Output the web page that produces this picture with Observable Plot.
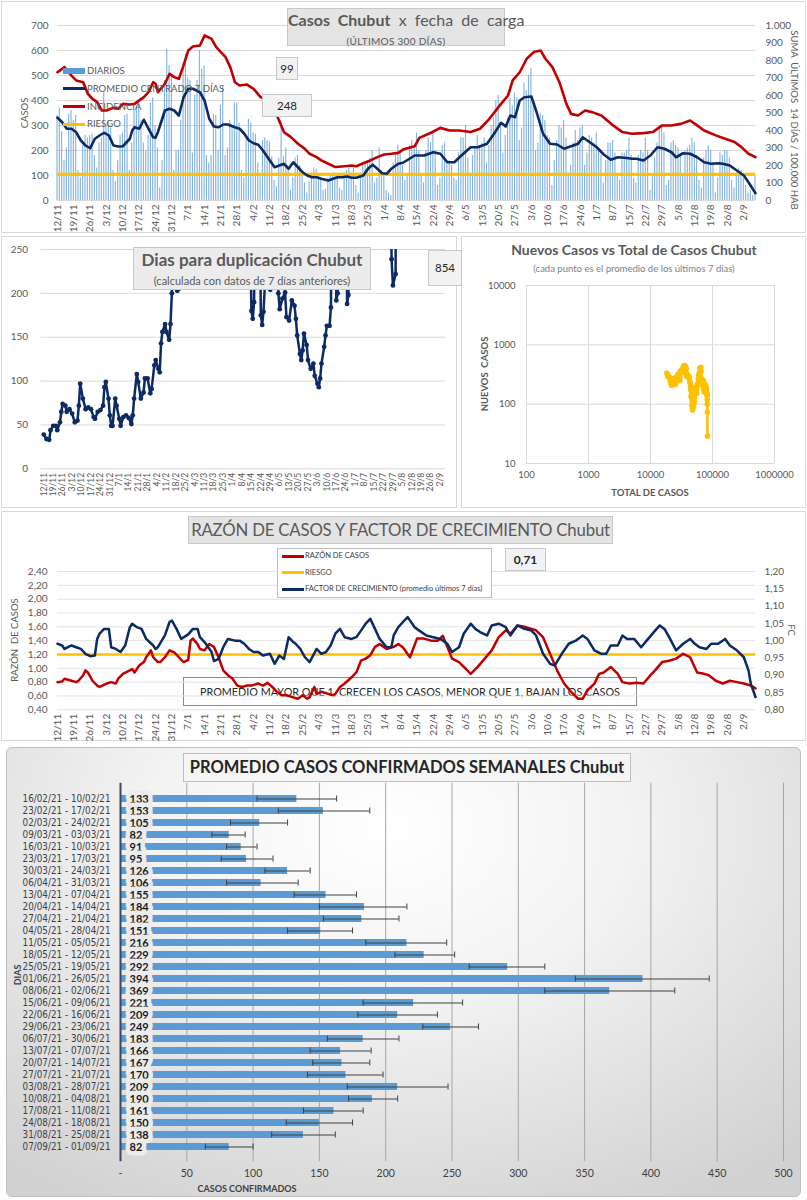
<!DOCTYPE html>
<html><head><meta charset="utf-8">
<script src="https://cdn.jsdelivr.net/npm/d3@7"></script>
<script src="https://cdn.jsdelivr.net/npm/@observablehq/plot@0.6"></script>
<style>
body{margin:0;background:#fff;font-family:Lato,"Open Sans",sans-serif;}
#root{position:relative;width:807px;height:1200px;overflow:hidden;background:#fff;}
#root svg{position:absolute;overflow:visible;}
</style></head>
<body><div id="root"></div>
<script>
// ---------------- DATA ----------------
const fechaEtiquetas = ["12/11","19/11","26/11","3/12","10/12","17/12","24/12","31/12","7/1","14/1","21/1","28/1","4/2","11/2","18/2","25/2","4/3","11/3","18/3","25/3","1/4","8/4","15/4","22/4","29/4","6/5","13/5","20/5","27/5","3/6","10/6","17/6","24/6","1/7","8/7","15/7","22/7","29/7","5/8","12/8","19/8","26/8","2/9"];

const diarios = [
340,370,275,160,210,345,360, 320,340,120,90,220,260,250, 260,265,180,130,230,250,430,
300,320,290,120,75,160,260, 270,340,345,120,230,360,380, 395,320,230,200,260,390,410,
300,210,50,160,480,605,540, 500,120,200,200,320,550,585, 490,480,190,420,480,600,525,
540,180,150,180,345,340,200, 380,460,180,210,320,300,390, 390,310,120,90,250,325,310,
270,265,150,95,240,250,240, 235,175,80,55,170,320,175, 210,120,40,90,170,180,140,
110,70,30,75,110,130,125, 100,90,40,45,90,100,110, 95,100,50,40,110,120,130,
110,130,60,30,110,140,150, 160,170,200,70,90,210,120, 110,40,30,20,150,190,220,
190,140,80,100,220,240,210, 270,200,100,70,200,250,230, 275,200,60,90,220,230,160,
160,140,90,80,190,250,250, 300,170,110,180,210,260,220, 230,250,150,220,300,330,400,
420,310,190,260,330,410,380, 430,410,240,290,470,440,500, 527,390,200,230,350,340,320,
260,250,60,160,240,300,290, 320,250,110,140,230,280,240, 290,300,140,190,260,250,230,
270,200,180,70,160,230,230, 240,190,100,80,190,190,200, 250,180,90,70,180,200,190,
250,200,40,100,170,230,300, 300,270,60,80,230,240,220, 210,180,100,200,210,220,250,
230,180,80,50,170,200,220, 200,150,30,90,190,180,200, 200,170,80,50,110,130,120,
90,60,30,40,20,99];

// [día, valor]  (día 0 = 12/11/2020)
const promedio7 = [[0,331],[2,313],[4,287],[6,287],[8,273],[10,240],[12,220],[14,209],[16,247],[18,260],[20,271],[22,260],[24,220],[26,216],[28,217],[31,247],[32,280],[33,293],[35,287],[37,323],[39,287],[41,253],[42,251],[43,273],[46,360],[48,367],[50,360],[52,340],[54,413],[56,447],[58,447],[61,433],[63,400],[65,327],[67,296],[69,293],[71,304],[73,304],[76,293],[78,287],[80,267],[82,240],[84,229],[86,223],[88,200],[90,173],[93,133],[97,147],[99,127],[101,153],[103,133],[105,113],[107,100],[109,93],[111,93],[113,87],[116,80],[118,87],[120,93],[122,93],[124,96],[126,91],[128,91],[131,100],[133,127],[135,143],[137,127],[139,109],[141,107],[143,127],[146,147],[148,151],[153,180],[157,180],[161,193],[164,187],[167,153],[170,153],[173,180],[177,213],[180,213],[184,227],[187,267],[190,311],[192,296],[194,340],[196,333],[198,400],[200,413],[203,416],[205,360],[208,267],[211,227],[214,224],[217,207],[220,217],[223,227],[225,253],[228,233],[231,213],[234,184],[237,163],[240,173],[243,171],[246,167],[248,167],[251,160],[254,180],[257,213],[260,207],[263,193],[265,173],[268,189],[271,187],[274,173],[277,153],[280,147],[283,149],[285,147],[288,140],[291,120],[294,100],[296,73],[299,29]];

const incidencia = [[0,733],[2,752],[3,762],[6,714],[8,686],[11,676],[13,610],[15,581],[17,562],[19,514],[21,514],[24,530],[26,524],[28,552],[31,549],[33,552],[35,572],[37,591],[39,619],[41,676],[42,667],[43,619],[46,667],[48,724],[50,705],[52,695],[54,772],[56,857],[58,880],[61,886],[63,943],[66,924],[68,876],[70,848],[72,819],[74,762],[76,676],[78,657],[81,663],[84,638],[87,591],[90,572],[92,524],[94,486],[97,391],[100,362],[103,324],[106,295],[108,267],[111,248],[113,229],[116,210],[119,191],[123,196],[126,200],[128,196],[131,213],[134,229],[137,248],[140,263],[143,267],[146,272],[148,291],[153,310],[155,358],[160,387],[164,415],[168,400],[172,400],[177,391],[181,410],[185,467],[190,552],[193,600],[195,686],[198,733],[201,810],[204,848],[207,857],[209,810],[212,762],[215,676],[218,552],[220,495],[223,486],[226,514],[229,505],[233,486],[238,429],[242,391],[246,381],[251,385],[255,391],[259,429],[263,429],[267,438],[271,457],[274,429],[277,400],[282,372],[286,353],[290,334],[293,305],[296,267],[299,248]];
const riesgoIncidencia = 150;
const ultimoDiario = 99;
const ultimaIncidencia = 248;

const duplicacion = [[0,39],[2,34],[4,33],[5,44],[7,49],[9,49],[10,44],[12,53],[13,65],[14,74],[16,72],[17,65],[19,68],[21,63],[23,53],[25,55],[26,72],[27,97],[29,80],[31,68],[33,70],[35,68],[37,59],[38,57],[40,65],[42,67],[44,72],[45,93],[46,99],[48,80],[49,61],[50,49],[51,49],[53,80],[54,72],[56,57],[57,49],[59,59],[61,61],[63,58],[65,51],[66,61],[67,80],[69,108],[70,99],[72,80],[74,87],[75,103],[77,103],[79,86],[80,91],[82,118],[83,124],[85,114],[86,110],[87,143],[88,156],[90,165],[91,156],[93,147],[94,165],[95,200],[97,400],[99,203],[100,205],[101,210],[102,400],[152,400],[154,180],[155,171],[156,190],[157,400],[160,400],[161,175],[162,164],[163,179],[164,210],[165,400],[167,400],[168,204],[169,400],[173,400],[174,200],[175,182],[177,194],[179,201],[180,173],[182,169],[184,192],[186,186],[187,171],[188,152],[190,131],[191,124],[192,135],[193,154],[195,141],[196,124],[198,114],[200,120],[201,106],[203,97],[204,93],[205,103],[206,120],[208,139],[209,152],[210,163],[212,163],[213,184],[214,400],[216,400],[217,192],[218,200],[219,400],[224,400],[225,188],[226,198],[227,400],[257,400],[258,239],[259,209],[261,222],[262,854]];
const ultimaDuplicacion = 854;
const totalInicial = 18000;

const razonCasos = [[0,0.80],[2,0.81],[3,0.85],[6,0.82],[8,0.80],[9,0.82],[11,0.90],[12,0.97],[13,0.94],[15,0.82],[17,0.75],[18,0.73],[21,0.78],[23,0.80],[25,0.78],[26,0.85],[28,0.92],[31,0.97],[32,0.99],[33,0.94],[35,1.04],[37,1.09],[38,1.16],[40,1.26],[41,1.16],[43,1.09],[44,1.09],[46,1.16],[48,1.26],[50,1.23],[52,1.16],[54,1.09],[56,1.12],[57,1.40],[58,1.43],[60,1.35],[61,1.28],[63,1.26],[65,1.35],[67,1.31],[69,1.16],[71,0.97],[73,0.90],[75,0.85],[77,0.75],[79,0.73],[81,0.75],[83,0.75],[86,0.78],[88,0.75],[90,0.79],[92,0.73],[94,0.66],[96,0.61],[98,0.61],[101,0.58],[103,0.56],[105,0.61],[107,0.56],[108,0.58],[110,0.73],[111,0.63],[113,0.66],[116,0.63],[118,0.61],[119,0.63],[121,0.73],[123,0.78],[126,0.87],[128,0.94],[130,1.11],[132,1.14],[134,1.19],[136,1.31],[138,1.35],[141,1.28],[144,1.31],[146,1.35],[148,1.30],[151,1.16],[154,1.43],[157,1.43],[160,1.40],[163,1.40],[165,1.47],[167,1.31],[169,1.14],[172,1.09],[175,0.99],[177,0.92],[180,1.02],[183,1.14],[186,1.26],[189,1.45],[192,1.55],[194,1.50],[197,1.62],[200,1.60],[203,1.57],[205,1.55],[208,1.45],[211,1.21],[214,0.97],[217,0.78],[220,0.66],[223,0.56],[225,0.56],[227,0.68],[230,0.78],[232,0.92],[234,0.94],[237,1.02],[240,0.92],[242,0.80],[245,0.78],[248,0.79],[251,0.78],[254,0.90],[256,0.97],[259,1.09],[262,1.11],[265,1.14],[268,1.21],[271,1.16],[274,0.94],[277,0.92],[279,0.90],[282,0.82],[285,0.78],[288,0.82],[291,0.80],[294,0.78],[297,0.75],[299,0.71]];
const factorCrecimiento = [[0,0.991],[2,0.986],[3,0.976],[6,0.986],[8,0.981],[10,0.976],[12,0.962],[14,0.955],[16,0.957],[17,1.005],[18,1.020],[20,1.034],[22,1.034],[23,0.981],[25,0.976],[27,0.967],[29,0.986],[31,1.039],[32,1.049],[34,1.039],[36,1.034],[38,1.005],[41,0.986],[42,0.976],[43,0.981],[46,1.015],[48,1.054],[49,1.058],[51,1.034],[53,1.005],[56,1.018],[58,1.034],[60,1.034],[61,1.010],[63,0.996],[66,0.967],[67,0.941],[69,0.947],[71,0.981],[73,1.005],[76,1.000],[78,1.000],[80,0.991],[82,0.976],[84,0.967],[86,0.967],[88,0.957],[91,0.962],[93,0.933],[95,0.957],[97,0.947],[99,1.010],[101,0.996],[102,0.991],[104,0.976],[106,0.952],[108,0.938],[111,0.976],[113,0.962],[115,0.967],[117,0.986],[119,1.020],[121,1.034],[123,1.010],[126,1.005],[128,1.010],[130,1.029],[132,1.049],[134,1.063],[136,1.034],[138,1.005],[141,0.981],[143,0.981],[144,1.015],[146,1.039],[148,1.054],[150,1.068],[153,1.039],[155,1.029],[158,1.015],[161,1.010],[164,1.005],[167,0.991],[169,0.967],[172,0.981],[174,1.020],[177,1.049],[179,1.034],[181,1.025],[184,1.015],[186,1.044],[189,1.049],[192,1.039],[194,1.015],[197,1.044],[200,1.034],[203,1.029],[205,1.015],[208,0.962],[211,0.933],[213,0.928],[216,0.962],[219,0.991],[222,1.000],[225,1.015],[227,1.005],[230,0.972],[233,0.962],[235,0.962],[237,0.986],[240,0.986],[242,1.015],[244,1.005],[247,1.005],[250,0.981],[253,1.005],[256,1.029],[258,1.044],[260,1.034],[262,1.010],[265,0.972],[268,0.991],[271,1.005],[273,0.991],[275,0.981],[278,0.976],[280,0.991],[283,0.991],[286,1.005],[288,0.986],[291,0.972],[294,0.952],[296,0.914],[297,0.875],[299,0.837]];
const riesgoRazon = 1.2;
const ultimaRazon = "0,71";

const semanas = ["16/02/21 - 10/02/21","23/02/21 - 17/02/21","02/03/21 - 24/02/21","09/03/21 - 03/03/21","16/03/21 - 10/03/21","23/03/21 - 17/03/21","30/03/21 - 24/03/21","06/04/21 - 31/03/21","13/04/21 - 07/04/21","20/04/21 - 14/04/21","27/04/21 - 21/04/21","04/05/21 - 28/04/21","11/05/21 - 05/05/21","18/05/21 - 12/05/21","25/05/21 - 19/05/21","01/06/21 - 26/05/21","08/06/21 - 02/06/21","15/06/21 - 09/06/21","22/06/21 - 16/06/21","29/06/21 - 23/06/21","06/07/21 - 30/06/21","13/07/21 - 07/07/21","20/07/21 - 14/07/21","27/07/21 - 21/07/21","03/08/21 - 28/07/21","10/08/21 - 04/08/21","17/08/21 - 11/08/21","24/08/21 - 18/08/21","31/08/21 - 25/08/21","07/09/21 - 01/09/21"];
const promedioSemanal = [133,153,105,82,91,95,126,106,155,184,182,151,216,229,292,394,369,221,209,249,183,166,167,170,209,190,161,150,138,82];
const errorInf = [103,119,83,69,80,76,109,80,131,150,153,126,185,207,263,343,320,183,179,228,156,143,145,141,171,172,138,125,114,64];
const errorSup = [163,188,126,94,103,115,143,134,178,216,210,175,246,252,320,444,418,258,239,270,210,189,188,198,247,209,183,175,162,100];

const ticksCasos = [0,100,200,300,400,500,600,700];
const ticksIncidencia = [0,100,200,300,400,500,600,700,800,900,1000];
const ticksDuplicacion = [0,50,100,150,200,250];
const ticksLog = [100,1000,10000,100000,1000000];
const ticksLogY = [10,100,1000,10000];
const ticksRazon = [0.4,0.6,0.8,1.0,1.2,1.4,1.6,1.8,2.0,2.2,2.4];
const ticksFC = [0.80,0.85,0.90,0.95,1.00,1.05,1.10,1.15,1.20];
const ticksSemanal = [0,50,100,150,200,250,300,350,400,450,500];

// ---------------- COLORS ----------------
const AZUL = "#5b9bd5", NAVY = "#0c2a64", ROJO = "#c00000", AMARILLO = "#ffc000", GRIS = "#595959";
const NARROW = "'Liberation Sans Narrow','DejaVu Sans Condensed',Lato,sans-serif";
const root = document.getElementById("root");
function div(html, st){const d=document.createElement("div");d.innerHTML=html;Object.assign(d.style,{position:"absolute",boxSizing:"border-box"},st);root.appendChild(d);return d;}
function put(svg,left,top){svg.style.left=left+"px";svg.style.top=top+"px";root.appendChild(svg);}
const comma = (v,n)=>v.toFixed(n).replace(".",",");
const tickDays = fechaEtiquetas.map((_,i)=>i*7);
const fmtFecha = d => fechaEtiquetas[Math.round(d/7)];

// panel frames
div("",{left:"1px",top:"1px",width:"805px",height:"232px",border:"1px solid #d9d9d9"});
div("",{left:"1px",top:"236px",width:"456px",height:"272px",border:"1px solid #d9d9d9"});
div("",{left:"461px",top:"236px",width:"345px",height:"272px",border:"1px solid #d9d9d9"});
div("",{left:"1px",top:"511px",width:"805px",height:"230px",border:"1px solid #d9d9d9"});
div("",{left:"6px",top:"747px",width:"795px",height:"450px",border:"1px solid #bfbfbf",borderRadius:"6px",background:"radial-gradient(ellipse 75% 95% at 48% 18%, #ffffff 0%, #f3f3f3 40%, #d2d2d2 100%)"});

// ---------------- PANEL 1 ----------------
const kInc = 700/1000; // incidencia -> escala izquierda
const p1 = Plot.plot({
  width:807,height:235,marginLeft:57,marginRight:52,marginTop:25,marginBottom:35,
  x:{domain:[0,299]}, y:{domain:[0,700]},
  style:{fontFamily:"Lato",fontSize:"10px",color:GRIS,background:"transparent"},
  marks:[
    Plot.gridY(ticksCasos,{stroke:"#d9d9d9",strokeOpacity:1}),
    Plot.axisY(ticksCasos,{anchor:"left",tickSize:0,tickPadding:9,label:null}),
    Plot.axisY(ticksIncidencia.map(v=>v*kInc),{anchor:"right",tickSize:0,tickPadding:10,label:null,
      tickFormat:v=>{const r=Math.round(v/kInc);return r>=1000?d3.format(",")(r).replace(/,/g,"."):String(r);}}),
    Plot.axisX(tickDays,{tickSize:0,tickPadding:4,tickRotate:-90,tickFormat:fmtFecha,label:null,fontSize:10}),
    Plot.rectY(diarios.map((v,i)=>({d:i,v})),{x1:d=>d.d-0.5,x2:d=>d.d+0.5,y1:0,y2:"v",insetLeft:0.6,insetRight:0.6,fill:AZUL,fillOpacity:0.75}),
    Plot.ruleY([riesgoIncidencia*kInc],{stroke:AMARILLO,strokeWidth:3}),
    Plot.line(incidencia,{x:d=>d[0],y:d=>d[1]*kInc,stroke:ROJO,strokeWidth:2.6}),
    Plot.line(promedio7,{x:d=>d[0],y:d=>d[1],stroke:NAVY,strokeWidth:2.6})
  ]});
put(p1,0,0);
div('<span style="font-weight:700">Casos&nbsp; Chubut</span>&nbsp; x&nbsp; fecha&nbsp; de&nbsp; carga<div style="font-size:10px;margin-top:3px;letter-spacing:0.3px">(ÚLTIMOS 300 DÍAS)</div>',
  {left:"287px",top:"8px",width:"218px",height:"38px",background:"#e4e4e4",border:"1px solid #c8c8c8",textAlign:"center",color:GRIS,fontSize:"16px",lineHeight:"19px",paddingTop:"1px",whiteSpace:"nowrap"});
div(String(ultimoDiario),{left:"276px",top:"57px",width:"22px",height:"23px",background:"#f2f2f2",border:"1px solid #c8c8c8",textAlign:"center",fontSize:"11.5px",lineHeight:"21px",color:"#262626"});
div(String(ultimaIncidencia),{left:"262px",top:"94px",width:"50px",height:"23px",background:"#f2f2f2",border:"1px solid #c8c8c8",textAlign:"center",fontSize:"11.5px",lineHeight:"21px",color:"#262626"});
// legend
[["DIARIOS",AZUL,"bar"],["PROMEDIO CENTRADO 7 DÍAS",NAVY,"line"],["INCIDENCIA",ROJO,"line"],["RIESGO",AMARILLO,"line"]].forEach((e,i)=>{
  const y=71+i*17.8;
  div("",{left:"63px",top:(e[2]==="bar"?y-3:y-1.5)+"px",width:"22px",height:(e[2]==="bar"?6:3)+"px",background:e[1]});
  div(e[0],{left:"87px",top:(y-7)+"px",fontSize:"9.5px",color:GRIS,whiteSpace:"nowrap",lineHeight:"14px"});
});
div("CASOS",{left:"24px",top:"113px",transform:"translate(-50%,-50%) rotate(-90deg)",fontSize:"9.5px",color:GRIS});
div("SUMA&nbsp; ÚLTIMOS&nbsp; 14 DÍAS / 100.000 HAB",{left:"794px",top:"120px",transform:"translate(-50%,-50%) rotate(90deg)",fontSize:"9.5px",color:GRIS,whiteSpace:"nowrap"});

// ---------------- PANEL 2 ----------------
const p2 = Plot.plot({
  width:460,height:273,marginLeft:40.6,marginRight:15,marginTop:12,marginBottom:41.7,
  x:{domain:[-2,298]}, y:{domain:[0,250]},
  style:{fontFamily:"Lato",fontSize:"10px",color:GRIS,background:"transparent"},
  marks:[
    Plot.gridY(ticksDuplicacion,{stroke:"#d9d9d9",strokeOpacity:1}),
    Plot.axisY(ticksDuplicacion,{anchor:"left",tickSize:0,tickPadding:13,label:null}),
    Plot.axisX(tickDays,{tickSize:0,tickPadding:4,tickRotate:-90,tickFormat:fmtFecha,label:null,fontSize:8.5}),
    Plot.line(duplicacion,{x:d=>d[0],y:d=>d[1],stroke:NAVY,strokeWidth:2.5,clip:true}),
    Plot.dot(duplicacion,{x:d=>d[0],y:d=>d[1],r:2.4,fill:NAVY,clip:true})
  ]});
put(p2,0,237);
div('<span style="font-weight:700;font-size:17px">Dias para duplicación Chubut</span><div style="font-size:11px;margin-top:2px">(calculada con datos de 7 días anteriores)</div>',
  {left:"133px",top:"247px",width:"238px",height:"43px",background:"#ececec",border:"1px solid #c8c8c8",textAlign:"center",color:GRIS,lineHeight:"19px",paddingTop:"2px",whiteSpace:"nowrap"});
div(String(ultimaDuplicacion),{left:"428px",top:"250px",width:"34px",height:"36px",background:"#f2f2f2",border:"1px solid #c8c8c8",textAlign:"center",fontSize:"11.5px",lineHeight:"34px",color:"#262626"});

// ---------------- PANEL 3 ----------------
const acumulado = d3.cumsum(diarios);
const dispersion = promedio7.map(([d,v])=>({total:totalInicial+acumulado[d],nuevos:v}));
const p3 = Plot.plot({
  width:347,height:273,marginLeft:66,marginRight:33,marginTop:48,marginBottom:47,
  x:{type:"log",domain:[100,1e6]}, y:{type:"log",domain:[10,10000]},
  style:{fontFamily:"Lato",fontSize:"9.5px",color:GRIS,background:"transparent"},
  marks:[
    Plot.gridX(ticksLog,{stroke:"#d9d9d9",strokeOpacity:1}),
    Plot.gridY(ticksLogY,{stroke:"#d9d9d9",strokeOpacity:1}),
    Plot.axisX(ticksLog,{tickSize:0,tickPadding:8,tickFormat:d=>String(d),label:null}),
    Plot.axisY(ticksLogY,{tickSize:0,tickPadding:11,tickFormat:d=>String(d),label:null}),
    Plot.line(dispersion,{x:"total",y:"nuevos",stroke:AMARILLO,strokeWidth:2.5}),
    Plot.dot(dispersion,{x:"total",y:"nuevos",r:2.8,fill:AMARILLO})
  ]});
put(p3,460,237);
div('<div style="font-weight:700;font-size:14px;color:'+GRIS+'">Nuevos Casos vs Total de Casos Chubut</div><div style="font-size:9.5px;margin-top:2px;color:#7f7f7f">(cada punto es el promedio de los últimos 7 días)</div>',
  {left:"634px",top:"241px",transform:"translateX(-50%)",textAlign:"center",whiteSpace:"nowrap",lineHeight:"17px"});
div("NUEVOS&nbsp; CASOS",{left:"484px",top:"374px",transform:"translate(-50%,-50%) rotate(-90deg)",fontSize:"9.5px",fontWeight:"700",color:GRIS,whiteSpace:"nowrap"});
div("TOTAL DE CASOS",{left:"650px",top:"492px",transform:"translate(-50%,-50%)",fontSize:"9.5px",fontWeight:"700",color:GRIS,whiteSpace:"nowrap"});

// ---------------- PANEL 4 ----------------
div("PROMEDIO MAYOR QUE 1, CRECEN LOS CASOS, MENOR QUE 1, BAJAN LOS CASOS",{left:"183px",top:"677px",width:"454px",height:"29px",border:"1px solid #8c8c8c",textAlign:"center",fontSize:"10.8px",lineHeight:"27px",color:"#262626",whiteSpace:"nowrap"});
const fcToY = f => 0.4 + (f-0.8)*5;
const p4 = Plot.plot({
  width:807,height:230,marginLeft:57,marginRight:52,marginTop:61,marginBottom:30.7,
  x:{domain:[0,299]}, y:{domain:[0.4,2.4]},
  style:{fontFamily:"Lato",fontSize:"10px",color:GRIS,background:"transparent"},
  marks:[
    Plot.gridY(ticksRazon,{stroke:"#e3e3e3",strokeOpacity:1}),
    Plot.axisY(ticksRazon,{anchor:"left",tickSize:0,tickPadding:10,tickFormat:v=>comma(v,2),label:null}),
    Plot.axisY(ticksFC.map(fcToY),{anchor:"right",tickSize:0,tickPadding:9,tickFormat:v=>comma(0.8+(v-0.4)/5,2),label:null}),
    Plot.axisX(tickDays,{tickSize:0,tickPadding:4,tickRotate:-90,tickFormat:fmtFecha,label:null,fontSize:10}),
    Plot.ruleY([riesgoRazon],{stroke:AMARILLO,strokeWidth:2.6}),
    Plot.line(razonCasos,{x:d=>d[0],y:d=>d[1],stroke:ROJO,strokeWidth:2.5}),
    Plot.line(factorCrecimiento,{x:d=>d[0],y:d=>fcToY(d[1]),stroke:NAVY,strokeWidth:2.5})
  ]});
put(p4,0,510);
div("RAZÓN DE CASOS Y FACTOR DE CRECIMIENTO Chubut",{left:"188px",top:"516px",width:"425px",height:"28px",background:"#e4e4e4",border:"1px solid #c8c8c8",textAlign:"center",fontSize:"16.8px",letterSpacing:"-0.2px",lineHeight:"26px",color:GRIS,whiteSpace:"nowrap"});
div("",{left:"277px",top:"548px",width:"215px",height:"50px",background:"#fff",border:"1px solid #bfbfbf"});
[["RAZÓN DE CASOS",ROJO],["RIESGO",AMARILLO],["FACTOR DE CRECIMIENTO (promedio últimos 7 días)",NAVY]].forEach((e,i)=>{
  const y=556+i*16.5;
  div("",{left:"282px",top:(y-1.5)+"px",width:"22px",height:"3px",background:e[1]});
  div(e[0],{left:"305px",top:(y-6)+"px",fontSize:"7.5px",color:"#404040",whiteSpace:"nowrap",lineHeight:"12px"});
});
div(ultimaRazon,{left:"505px",top:"548px",width:"41px",height:"23px",background:"#f2f2f2",border:"1px solid #c8c8c8",textAlign:"center",fontSize:"12px",fontWeight:"700",lineHeight:"21px",color:"#262626"});
div("RAZÓN&nbsp; DE CASOS",{left:"14px",top:"640px",transform:"translate(-50%,-50%) rotate(-90deg)",fontSize:"9.5px",color:GRIS,whiteSpace:"nowrap"});
div("FC",{left:"791px",top:"630px",transform:"translate(-50%,-50%) rotate(90deg)",fontSize:"9.5px",color:GRIS});

// ---------------- PANEL 5 ----------------
const filas = semanas.map((s,i)=>({semana:s,v:promedioSemanal[i],lo:errorInf[i],hi:errorSup[i]}));
const p5 = Plot.plot({
  width:807,height:455,marginLeft:120,marginRight:24,marginTop:37.7,marginBottom:38.8,
  x:{domain:[0,500]}, y:{domain:semanas,padding:0.45},
  style:{fontFamily:"Lato",fontSize:"10.5px",color:"#404040",background:"transparent"},
  marks:[
    Plot.gridX(ticksSemanal.slice(1),{stroke:"#a6a6a6",strokeOpacity:1}),
    Plot.axisX(ticksSemanal,{tickSize:0,tickPadding:8,tickFormat:v=>v===0?"-":String(v),label:null,fontSize:10.5}),
    Plot.axisY({tickSize:0,tickPadding:10,label:null,fontSize:9.8,fontFamily:NARROW}),
    Plot.barX(filas,{y:"semana",x:"v",fill:AZUL}),
    Plot.ruleY(filas,{y:"semana",x1:"lo",x2:"hi",stroke:"#404040",strokeWidth:1}),
    Plot.tickX(filas,{y:"semana",x:"lo",stroke:"#404040",insetTop:0.5,insetBottom:0.5}),
    Plot.tickX(filas,{y:"semana",x:"hi",stroke:"#404040",insetTop:0.5,insetBottom:0.5}),
    Plot.ruleX([0],{stroke:"#3b4a5e",strokeWidth:2}),
    Plot.text(filas,{y:"semana",x:0,text:d=>String(d.v),dx:9,textAnchor:"start",fontWeight:"bold",fontSize:11,fill:"#1a1a1a",stroke:"#ececec",strokeWidth:9})
  ]});
put(p5,0,745);
div("PROMEDIO CASOS CONFIRMADOS SEMANALES Chubut",{left:"183px",top:"753px",width:"448px",height:"29px",background:"rgba(245,245,245,0.9)",border:"1px solid #bfbfbf",textAlign:"center",fontSize:"16.5px",fontWeight:"700",lineHeight:"27px",color:"#262626",whiteSpace:"nowrap"});
div("CASOS CONFIRMADOS",{left:"247px",top:"1188px",transform:"translate(-50%,-50%)",fontSize:"9px",fontWeight:"700",color:"#404040",whiteSpace:"nowrap"});
div("DIAS",{left:"17px",top:"975px",transform:"translate(-50%,-50%) rotate(-90deg)",fontSize:"9px",fontWeight:"700",color:"#404040"});
</script></body></html>
